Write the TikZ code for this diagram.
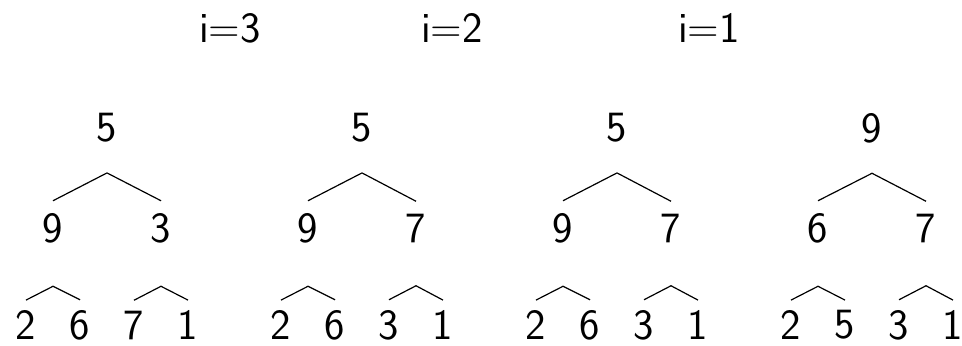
\documentclass[tikz,border=0pt]{standalone}
\usetikzlibrary{calc}
\tikzset{
  key/.style={inner sep=0pt,font=\fontsize{21.6}{26}\selectfont\sffamily},
  pass/.style={inner sep=0pt,font=\fontsize{21.6}{26}\selectfont\sffamily},
  link/.style={semithick,line join=round},
}
\begin{document}
\begin{tikzpicture}[x=0.5pt,y=-0.5pt]
  \useasboundingbox (0,0) rectangle (962,345);
  % one heap per pass
  \foreach \vr/\vl/\vm/\va/\vb/\vc/\vd [count=\t] in {
    5/9/3/2/6/7/1,
    5/9/7/2/6/3/1,
    5/9/7/2/6/3/1,
    9/6/7/2/5/3/1}
  {
    \pgfmathsetmacro{\x}{107+(\t-1)*255}
    \node[key] (r\t) at (\x,128) {\vr};
    \node[key] (a\t) at (\x-54,228) {\vl};
    \node[key] (b\t) at (\x+54,228) {\vm};
    \node[key] (c\t) at (\x-81,325) {\va};
    \node[key] (d\t) at (\x-27,325) {\vb};
    \node[key] (e\t) at (\x+27,325) {\vc};
    \node[key] (f\t) at (\x+81,325) {\vd};
    \draw[link] ($(a\t.north)+(0,-12)$) -- ($(r\t.south)+(0,30)$) -- ($(b\t.north)+(0,-12)$);
    \draw[link] ($(c\t.north)+(0,-10)$) -- ($(a\t.south)+(0,43)$) -- ($(d\t.north)+(0,-10)$);
    \draw[link] ($(e\t.north)+(0,-10)$) -- ($(b\t.south)+(0,43)$) -- ($(f\t.north)+(0,-10)$);
  }
  % pass labels
  \foreach \x/\v in {230/3,452/2,709/1}
    \node[pass] (i\v) at (\x,28) {i=\v};
\end{tikzpicture}
\end{document}
